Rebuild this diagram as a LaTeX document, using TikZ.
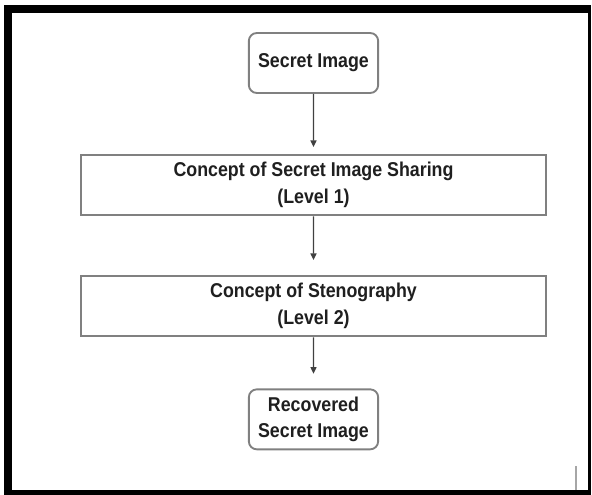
\documentclass[tikz,border=0pt]{standalone}
\usepackage{fontspec}
\setmainfont{Liberation Sans}[FakeStretch=0.89]
\usepackage{tikz}
\usetikzlibrary{arrows.meta}

\begin{document}
\begin{tikzpicture}[
        x=0.75pt, y=0.75pt,
        every node/.style={font=\fontsize{15}{20}\selectfont\bfseries, align=center, text=black!88},
        terminal/.style={draw=black!50, line width=1.4pt, rounded corners=6pt, fill=white, minimum width=97pt, minimum height=45pt},
        stage/.style={draw=black!50, line width=1.4pt, fill=white, minimum width=349pt, minimum height=45.5pt},
        level 1/.style={level distance=91.5pt},
        level 2/.style={level distance=90.75pt, edge from parent/.append style={shorten >=11pt}},
        level 3/.style={level distance=85pt},
        edge from parent/.style={draw=black!75, line width=1pt, -{Triangle[length=5pt,width=4.5pt]}, shorten >=5pt}
      ]
      % page frame
      \useasboundingbox (0,0) rectangle (592,-495);
      \fill[white] (0,0) rectangle (592,-495);
      \fill[black] (4,-5) rectangle (591,-495);
      \fill[white] (12,-13) rectangle (588,-490);
      \draw[black!35, line width=1.2pt] (576,-466) -- (576,-490);

      \node[terminal] (secret) at (313.5,-63) {Secret Image}
        child { node[stage] (sharing) {Concept of Secret Image Sharing\\(Level 1)}
          child { node[stage] (steno) {Concept of Stenography\\(Level 2)}
            child { node[terminal] (recovered) {Recovered\\Secret Image} }
          }
        };
    \end{tikzpicture}
\end{document}
